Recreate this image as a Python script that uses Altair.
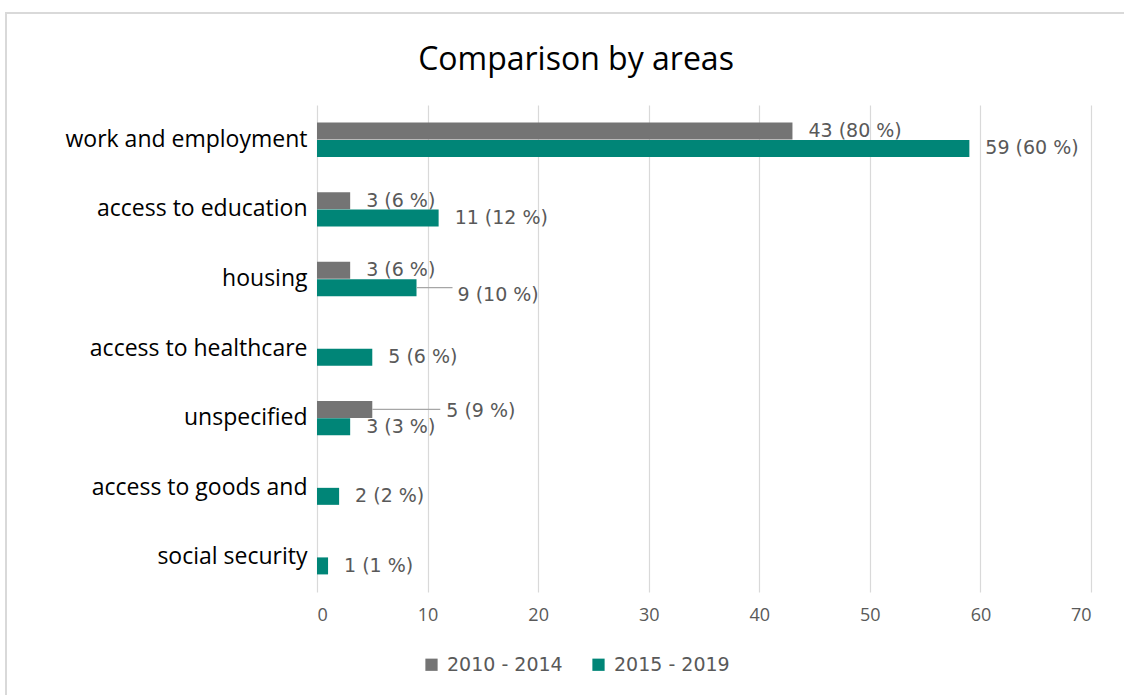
import altair as alt
import pandas as pd

categories = ["work and employment", "access to education", "housing",
              "access to healthcare", "unspecified", "access to goods and",
              "social security"]
periods = ["2010 - 2014", "2015 - 2019"]
counts_2010 = [43, 3, 3, 0, 5, 0, 0]
pct_2010 = [80, 6, 6, 0, 9, 0, 0]
counts_2015 = [59, 11, 9, 5, 3, 2, 1]
pct_2015 = [60, 12, 10, 6, 3, 2, 1]
x_ticks = [0, 10, 20, 30, 40, 50, 60, 70]
# labels drawn away from the bar with a leader line: (category, period)
leader_labels = [("housing", "2015 - 2019"), ("unspecified", "2010 - 2014")]

GRAY = "#747474"
TEAL = "#008577"
TXT = "#595959"
FONT = "Open Sans"
LFONT = "DejaVu Sans"

rows = []
for i, c in enumerate(categories):
    for p, cnt, pct in ((periods[0], counts_2010[i], pct_2010[i]),
                        (periods[1], counts_2015[i], pct_2015[i])):
        rows.append({"category": c, "period": p, "count": cnt,
                     "label": f"{cnt} ({pct} %)",
                     "leader": (c, p) in leader_labels})
df = pd.DataFrame(rows)

W, H = 774, 487
PAD = {"left": 317, "top": 105, "right": 33, "bottom": 103}

base = alt.Chart(df).encode(
    y=alt.Y("category:N", sort=categories, title=None,
            scale=alt.Scale(paddingInner=0.5, paddingOuter=0.25),
            axis=alt.Axis(domain=False, ticks=False, grid=False,
                          labelFontSize=23, labelColor="#000000",
                          labelFont=FONT, labelPadding=10, labelLimit=400)),
    yOffset=alt.YOffset("period:N", sort=periods),
)

bars = base.mark_bar(size=17).encode(
    x=alt.X("count:Q", scale=alt.Scale(domain=[0, 70]), title=None,
            axis=alt.Axis(values=x_ticks, domain=False, ticks=False,
                          grid=True, labelFontSize=18, labelColor=TXT,
                          labelFont=FONT, labelPadding=14,
                          gridColor="#d9d9d9", gridWidth=1.2)),
    color=alt.Color("period:N", sort=periods,
                    scale=alt.Scale(domain=periods, range=[GRAY, TEAL]),
                    legend=alt.Legend(orient="none", legendX=105, legendY=550,
                                      direction="horizontal", title=None,
                                      symbolType="square", symbolSize=150,
                                      symbolStrokeWidth=0, labelFontSize=19,
                                      labelColor=TXT, labelFont=LFONT,
                                      labelOffset=6, columnPadding=26)),
)

LBL = dict(align="left", baseline="middle", fontSize=19, font=LFONT,
           color=TXT)

labels = base.mark_text(dx=16, **LBL).encode(
    x=alt.X("count:Q"), text="label:N"
).transform_filter("datum.count > 0 && !datum.leader")

layers = [bars, labels]

leader_specs = {("housing", "2015 - 2019"): (41, 36, 7),
                ("unspecified", "2010 - 2014"): (74, 68, 2)}
for (c, p), (dx, ln, dy) in leader_specs.items():
    sel = f"datum.category == '{c}' && datum.period == '{p}'"
    layers.append(
        base.mark_rule(color="#a6a6a6", strokeWidth=1.3, x2Offset=ln).encode(
            x="count:Q", x2="count:Q").transform_filter(sel))
    layers.append(
        base.mark_text(dx=dx, dy=dy, **LBL).encode(
            x="count:Q", text="label:N").transform_filter(sel))

frame = alt.Chart(df).mark_rect(fill=None, stroke="#d9d9d9", strokeWidth=2).encode(
    x=alt.value(-311), x2=alt.value(830), y=alt.value(-92), y2=alt.value(700))

chart = alt.layer(frame, *layers).properties(
    width=W, height=H,
    autosize=alt.AutoSizeParams(type="none"),
    padding=PAD,
    title=alt.TitleParams("Comparison by areas", fontSize=32, font=FONT,
                          fontWeight="normal", color="#000000",
                          anchor="middle", frame="group", dx=-128, offset=-65),
).configure_view(stroke=None)

chart.save("out.html", embed_options={"renderer": "svg", "actions": False})
